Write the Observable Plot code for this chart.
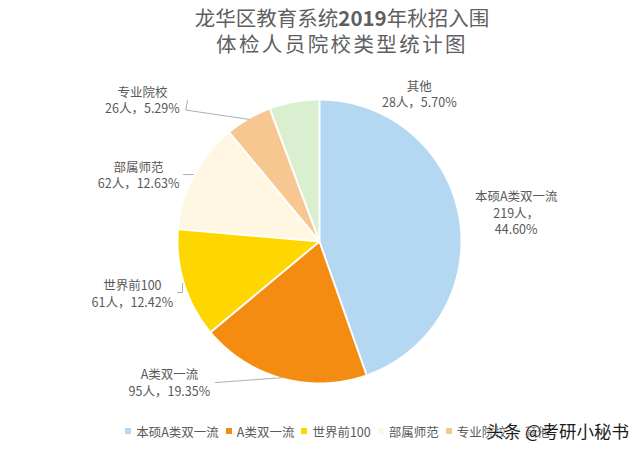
<!DOCTYPE html>
<html><head><meta charset="utf-8">
<script src="https://cdn.jsdelivr.net/npm/d3@7"></script>
<script src="https://cdn.jsdelivr.net/npm/@observablehq/plot@0.6"></script>
<style>
body{margin:0;background:#fff;font-family:"Noto Sans CJK SC","Noto Sans",sans-serif;}
#wrap{position:relative;width:640px;height:451px;overflow:hidden;background:#fff;}
#title{height:58px;padding-top:4px;padding-left:44px;box-sizing:border-box;text-align:center;color:#5f5f5f;font-size:20.5px;line-height:26px;}
#title .l2{letter-spacing:2.4px;}
#legend{position:absolute;left:0;top:421px;width:640px;padding-left:42px;box-sizing:border-box;display:flex;justify-content:center;}
.lg-swatches-wrap{justify-content:center !important;min-height:20px !important;}
.lg-swatch{margin-right:7px !important;}
.lg-swatch>svg{margin-right:5px !important;}
#wm{position:absolute;left:486px;top:418px;font-size:17.5px;color:#1c1c1c;text-shadow:0 0 2px #fff,0 0 2px #fff;white-space:nowrap;}
</style></head><body>
<div id="wrap">
  <div id="title"><div>龙华区教育系统<b>2019</b>年秋招入围</div><div class="l2">体检人员院校类型统计图</div></div>
  <div id="chart"></div>
  <div id="legend"></div>
  <div id="wm">头条 @考研小秘书</div>
</div>
<script>
// ---- data ----
const categories = ["本硕A类双一流", "A类双一流", "世界前100", "部属师范", "专业院校", "其他"];
const counts = [219, 95, 61, 62, 26, 28];
const percents = ["44.60%", "19.35%", "12.42%", "12.63%", "5.29%", "5.70%"];
const colors = ["#b4d7f2", "#f58c12", "#fed600", "#fff7e2", "#f7c792", "#d9efcf"];

// ---- layout (polar: degrees clockwise from top, radius in pie radii) ----
const labelAngle = [81.6, 226.8, 254.5, 290.2, 308.6, 34.1];
const labelRadius = [1.41, 1.46, 1.377, 1.367, 1.607, 1.263];
const labelBreak = [true, false, false, false, false, false];
const leaderLines = [
  {cat: "A类双一流", pts: [[216.4, 1.243], [195.1, 1.0]]},
  {cat: "世界前100", pts: [[250.2, 1.07], [249.6, 1.037], [253.0, 1.016]]},
  {cat: "部属师范", pts: [[296.2, 1.075], [298.0, 1.012]]},
  {cat: "专业院校", pts: [[316.9, 1.37], [314.5, 1.33], [330.0, 1.0]]}
];

const R = 141, W = 640, H = 362, cx = 319, cy = 183;
const rad = d => d * Math.PI / 180;
const polar = (a, r) => ({x: r * Math.sin(a), y: r * Math.cos(a)});

const arcs = d3.pie().sort(null).value(d => d)(counts);
const slicePts = [];
arcs.forEach((a, i) => {
  const cat = categories[i];
  slicePts.push({cat, x: 0, y: 0});
  const n = Math.max(2, Math.ceil((a.endAngle - a.startAngle) / 0.005));
  for (let k = 0; k <= n; k++) {
    const t = a.startAngle + (a.endAngle - a.startAngle) * k / n;
    slicePts.push({cat, ...polar(t, 1)});
  }
  slicePts.push({cat, x: 0, y: 0});
});
const seps = arcs.map(a => ({...polar(a.startAngle, 1)}));

const labels = categories.map((c, i) => ({
  ...polar(rad(labelAngle[i]), labelRadius[i]),
  text: c + "\n" + counts[i] + "人，" + (labelBreak[i] ? "\n" : "") + percents[i]
}));

const leaderPts = leaderLines.flatMap(l => l.pts.map(([a, r]) => ({cat: l.cat, ...polar(rad(a), r)})));

const plot = Plot.plot({
  width: W, height: H,
  margin: 0,
  style: {fontFamily: '"Noto Sans CJK SC", sans-serif', background: "#fff"},
  x: {domain: [-cx / R, (W - cx) / R], axis: null},
  y: {domain: [-(H - cy) / R, cy / R], axis: null},
  color: {domain: categories, range: colors},
  marks: [
    Plot.line(slicePts, {x: "x", y: "y", z: "cat", fill: "cat", stroke: null, curve: "linear"}),
    Plot.link(seps, {x1: () => 0, y1: () => 0, x2: "x", y2: "y", stroke: "#fff", strokeWidth: 2}),
    Plot.line(leaderPts, {x: "x", y: "y", z: "cat", stroke: "#a6a6a6", strokeWidth: 0.9}),
    Plot.text(labels, {x: "x", y: "y", text: "text", fill: "#595959", fontSize: 12.5, lineHeight: 1.3, textAnchor: "middle", lineAnchor: "middle"})
  ]
});
document.getElementById("chart").appendChild(plot);

const lg = plot.legend("color", {
  legend: "swatches", swatchSize: 6, className: "lg",
  style: {fontSize: "12.5px", color: "#595959", fontFamily: '"Noto Sans CJK SC", sans-serif'}
});
document.getElementById("legend").appendChild(lg);
</script>
</body></html>
